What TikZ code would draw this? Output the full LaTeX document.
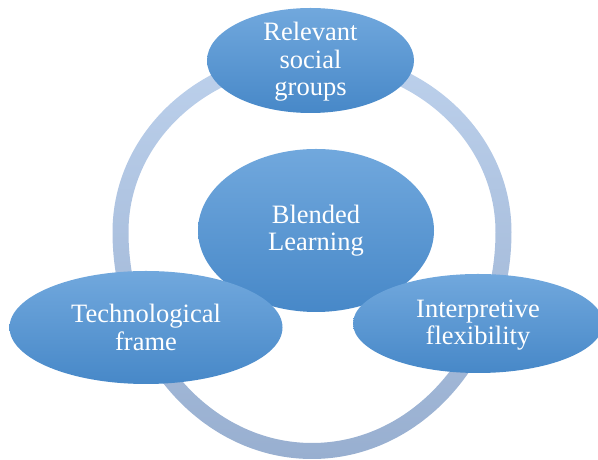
\documentclass[tikz,border=0pt]{standalone}
\usepackage{fontspec}
\setmainfont{Liberation Serif}
\usetikzlibrary{positioning,shapes.geometric,backgrounds}
\definecolor{bollaAlto}{HTML}{71A8DD}
\definecolor{bollaMezzo}{HTML}{5A9BD6}
\definecolor{bollaBasso}{HTML}{4788C8}
\definecolor{anelloAlto}{HTML}{BDD1EC}
\definecolor{anelloBasso}{HTML}{98AFD0}
\tikzset{
    ciclo/.style={
        x=1pt, y=1pt,
        % Stile per le bolle (ellisse sfumata)
        bolla/.style={ellipse, inner sep=0pt,
                      top color=bollaAlto, middle color=bollaMezzo,
                      bottom color=bollaBasso},
        % Stile per il testo nelle bolle
        testo/.style={align=center, text=white, inner sep=0pt,
                      font=\fontsize{26.5}{27.5}\selectfont},
        % Stile per l'anello
        anello/.style={top color=anelloAlto, bottom color=anelloBasso,
                       even odd rule}
    }
}

\begin{document}
\begin{tikzpicture}[ciclo]
    \useasboundingbox (0,0) rectangle (598,460);
    % anello dietro le bolle
    \shade[anello]
        (112.5,228) arc[start angle=180, end angle=0, x radius=199.5, y radius=182]
                    arc[start angle=0, end angle=-180, x radius=199.5, y radius=227] -- cycle
        (128.5,228) arc[start angle=180, end angle=0, x radius=183.5, y radius=166]
                    arc[start angle=0, end angle=-180, x radius=183.5, y radius=211] -- cycle;

    \node[bolla, minimum width=236, minimum height=163] (bl) at (316,229.5) {};
    \node[bolla, minimum width=273, minimum height=113] (tf) at (146,132.5) {};
    \node[bolla, minimum width=250, minimum height=99] (if) at (478,136.5) {};
    \node[bolla, minimum width=207, minimum height=105] (rsg) at (310.5,399.5) {};

    \node[testo] (bl-t) at (bl) {Blended\\Learning};
    \node[testo] (tf-t) at (tf) {Technological\\frame};
    \node[testo] (if-t) at ([yshift=-1.5]if) {Interpretive\\flexibility};
    \node[testo] (rsg-t) at ([yshift=-1.5]rsg) {Relevant\\social\\groups};
\end{tikzpicture}
\end{document}
